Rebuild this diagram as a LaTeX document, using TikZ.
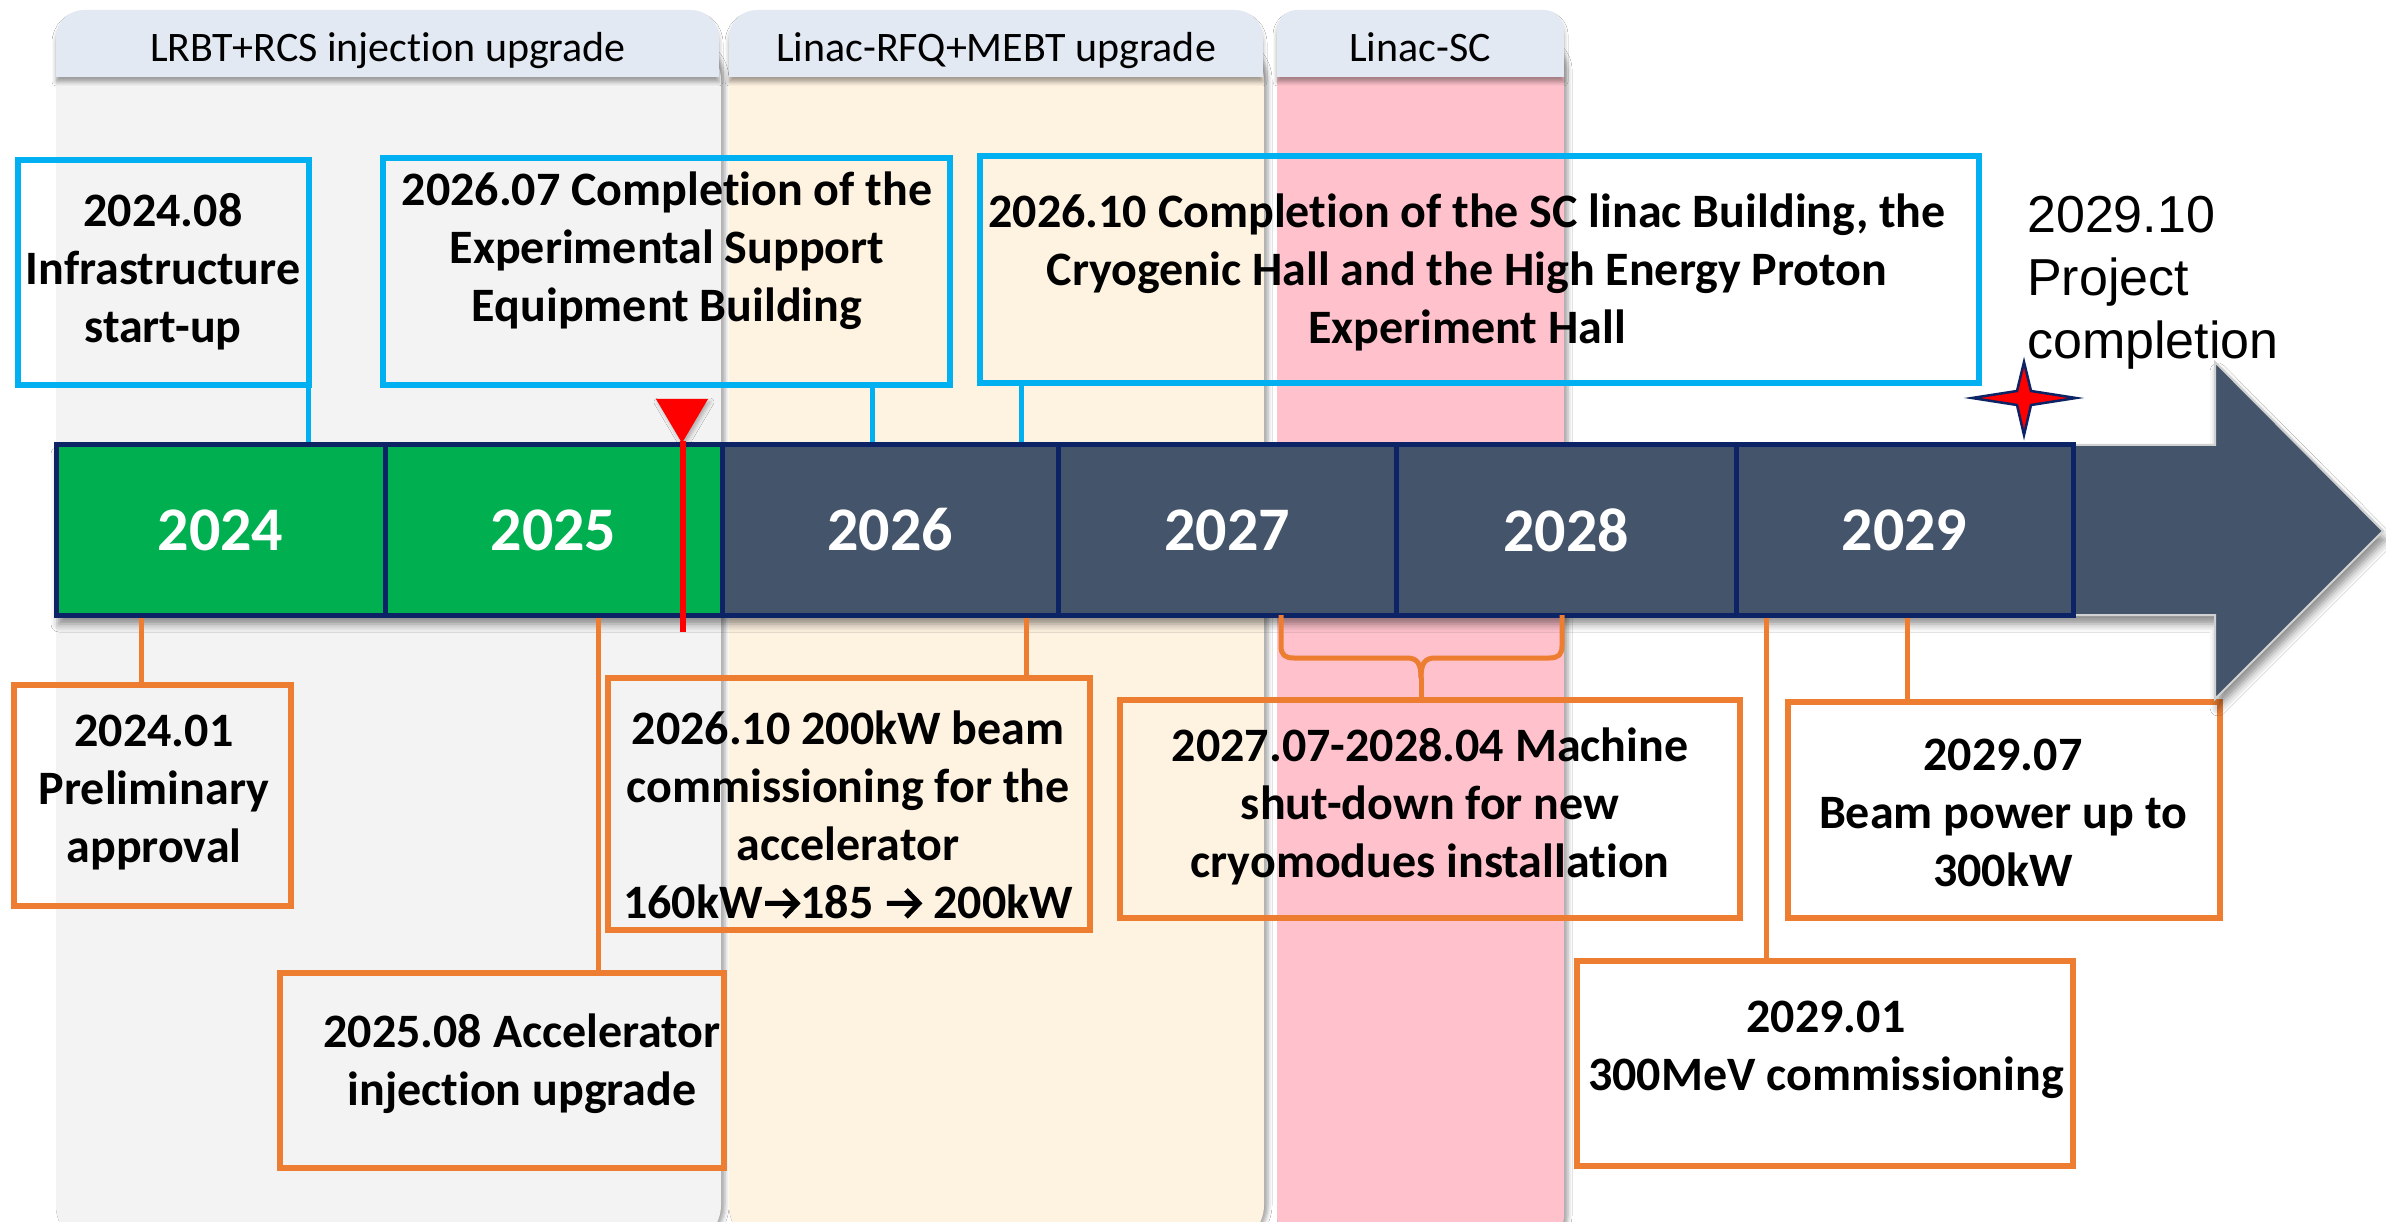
\documentclass[tikz,border=0pt]{standalone}
\usepackage{fontspec}
\setmainfont{Carlito}[Ligatures=NoCommon]
\newfontfamily\arialfont{Liberation Sans}
\usetikzlibrary{shadows.blur}

\definecolor{panelgray}{HTML}{F3F3F3}
\definecolor{panelcream}{HTML}{FEF2E1}
\definecolor{panelpink}{HTML}{FFC2CC}
\definecolor{headblue}{HTML}{E3E9F3}
\definecolor{boxblue}{HTML}{00B0F0}
\definecolor{boxorange}{HTML}{ED7D31}
\definecolor{yeargreen}{HTML}{00B050}
\definecolor{yearslate}{HTML}{44546A}
\definecolor{yearnavy}{HTML}{0C2366}
\definecolor{markred}{HTML}{FF0000}

% open-headed arrow glyph, drawn to match the bold text
\newcommand{\rarr}{\tikz[baseline=0pt, x=1pt, y=1pt]{\draw[black, line width=5pt, line cap=butt, line join=miter]
  (3,15) -- (36,15) (22,1.5) -- (35,15) -- (22,28.5);}}

\tikzset{
  panelshadow/.style={blur shadow={shadow xshift=4pt, shadow yshift=0pt, shadow blur radius=4pt, shadow opacity=35}},
  headshadow/.style={blur shadow={shadow xshift=0pt, shadow yshift=-5pt, shadow blur radius=4pt, shadow opacity=35}},
  barshadow/.style={blur shadow={shadow xshift=3pt, shadow yshift=-9pt, shadow blur radius=8pt, shadow opacity=45}},
  headtext/.style={font=\fontsize{42}{50}\selectfont, anchor=base, inner sep=0pt},
  bluebox/.style={draw=boxblue, line width=5.5pt, inner sep=0pt},
  orangebox/.style={draw=boxorange, line width=5.5pt, inner sep=0pt},
  boxtext/.style={font=\fontsize{48}{58}\selectfont\bfseries, align=center, inner sep=0pt},
  bluelink/.style={draw=boxblue, line width=5pt},
  orangelink/.style={draw=boxorange, line width=5pt},
  yearcell/.style={draw=yearnavy, line width=5pt, text=white, inner sep=0pt,
    minimum height=170pt, font=\fontsize{62}{70}\selectfont\bfseries},
}

\begin{document}
\begin{tikzpicture}[x=1pt,y=-1pt]
\useasboundingbox (0,0) rectangle (2386,1222);
\fill[white] (0,0) rectangle (2386,1222);

% ---------- phase panels ----------
\fill[panelgray, rounded corners=40pt, panelshadow] (56,40) rectangle (721,1245);
\fill[panelcream, rounded corners=40pt, panelshadow] (729,40) rectangle (1264,1245);
\fill[panelpink, rounded corners=30pt, panelshadow] (1277,40) rectangle (1564,1245);

\fill[headblue, headshadow] (56,77) [rounded corners=28pt] -- (56,10) -- (719,10) [sharp corners] -- (719,77) -- cycle;
\fill[headblue, headshadow] (729,77) [rounded corners=28pt] -- (729,10) -- (1263,10) [sharp corners] -- (1263,77) -- cycle;
\fill[headblue, headshadow] (1277,77) [rounded corners=20pt] -- (1277,10) -- (1564,10) [sharp corners] -- (1564,77) -- cycle;

\node[headtext] (h1) at (388,62) {LRBT+RCS injection upgrade};
\node[headtext] (h2) at (996,62) {Linac-RFQ+MEBT upgrade};
\node[headtext] (h3) at (1420,62) {Linac-SC};

% ---------- event boxes ----------
\node[bluebox, minimum width=291pt, minimum height=225pt] (b1) at (163.5,272.5) {};
\node[bluebox, minimum width=567pt, minimum height=227pt] (b2) at (666.5,271.5) {};
\node[bluebox, minimum width=999pt, minimum height=227pt] (b3) at (1479.5,269.5) {};

\node[orangebox, minimum width=277pt, minimum height=221pt] (o1) at (152.5,795.5) {};
\node[orangebox, minimum width=444pt, minimum height=195pt] (o2) at (502,1070.5) {};
\node[orangebox, minimum width=482pt, minimum height=252pt] (o3) at (849,804) {};
\node[orangebox, minimum width=620pt, minimum height=218pt] (o4) at (1430,809) {};
\node[orangebox, minimum width=432pt, minimum height=216pt] (o5) at (2004,810) {};
\node[orangebox, minimum width=496pt, minimum height=205pt] (o6) at (1825,1063.5) {};

% ---------- timeline arrow ----------
\filldraw[fill=yearslate, draw=black!18, line width=2pt, barshadow]
  (56,445) -- (2215,445) -- (2215,362) -- (2383,531) -- (2215,699) -- (2215,615) -- (56,615) -- cycle;

\node[yearcell, fill=yeargreen, minimum width=329pt] (y2024) at (220.5,530) {2024};
\node[yearcell, fill=yeargreen, minimum width=337pt] (y2025) at (553.5,530) {2025};
\node[yearcell, fill=yearslate, minimum width=336pt] (y2026) at (890,530) {2026};
\node[yearcell, fill=yearslate, minimum width=338pt] (y2027) at (1227,530) {2027};
\node[yearcell, fill=yearslate, minimum width=340pt] (y2028) at (1566,530) {2028};
\node[yearcell, fill=yearslate, minimum width=337pt] (y2029) at (1904.5,530) {2029};

% ---------- connectors ----------
\coordinate (kb1) at (308,0);
\coordinate (kb2) at (872,0);
\coordinate (kb3) at (1021,0);
\coordinate (ko1) at (141,0);
\coordinate (ko2) at (598,0);
\coordinate (ko3) at (1026,0);
\coordinate (ko5) at (1907,0);
\coordinate (ko6) at (1766,0);

\draw[bluelink] (b1.south -| kb1) -- (y2024.north -| kb1);
\draw[bluelink] (b2.south -| kb2) -- (y2026.north -| kb2);
\draw[bluelink] (b3.south -| kb3) -- (y2026.north -| kb3);

\draw[orangelink] (y2024.south -| ko1) -- (o1.north -| ko1);
\draw[orangelink] (y2025.south -| ko2) -- (o2.north -| ko2);
\draw[orangelink] (y2026.south -| ko3) -- (o3.north -| ko3);
\draw[orangelink] (y2029.south -| ko5) -- (o5.north -| ko5);
\draw[orangelink] (y2029.south -| ko6) -- (o6.north -| ko6);

% brace for the shut-down period
\coordinate (braceTip) at (1421,678);
\draw[orangelink, line join=round] (1281,615) -- (1281,646) .. controls (1281,655) and (1285,658) .. (1294,658)
  -- (1407,658) .. controls (1417,658) and (1421,663) .. (braceTip);
\draw[orangelink, line join=round] (1562,615) -- (1562,646) .. controls (1562,655) and (1558,658) .. (1549,658)
  -- (1435,658) .. controls (1425,658) and (1421,663) .. (braceTip);
\draw[orangelink] (braceTip) -- (o4.north -| braceTip);

% ---------- current-date marker ----------
\fill[markred, blur shadow={shadow xshift=2pt, shadow yshift=-3pt, shadow blur radius=4pt, shadow opacity=30}]
  (656,399) -- (708,399) -- (682,443) -- cycle;
\draw[markred, line width=6pt] (683,441) -- (683,632);

% ---------- completion star ----------
\filldraw[fill=markred, draw=yearnavy, line width=2.5pt, line join=miter]
  (2076,398) -- (2031,391) -- (2024,362) -- (2017,391) -- (1972,398)
  -- (2017,405) -- (2024,435) -- (2031,405) -- cycle;

\node[font=\arialfont\fontsize{52}{63}\selectfont, align=left, anchor=north west, inner sep=0pt]
  (pc) at (2027,196) {2029.10\\Project\\completion};

% ---------- texts ----------
\node[boxtext] (t1) at (163,272) {2024.08\\Infrastructure\\start-up};
\node[boxtext] (t2) at (667,251) {2026.07 Completion of the\\Experimental Support\\Equipment Building};
\node[boxtext] (t3) at (1467,272) {2026.10 Completion of the SC linac Building, the\\Cryogenic Hall and the High Energy Proton\\Experiment Hall};

\node[boxtext] (u1) at (154,793) {2024.01\\Preliminary\\approval};
\node[boxtext] (u2) at (522,1064) {2025.08 Accelerator\\injection upgrade};
\node[boxtext] (u3) at (848,815) {2026.10 200kW beam\\commissioning for the\\accelerator\\160kW\rarr185 \rarr{} 200kW};
\node[boxtext] (u4) at (1430,806) {2027.07-2028.04 Machine\\shut-down for new\\cryomodues installation};
\node[boxtext] (u5) at (2003,813) {2029.07\\Beam power up to\\300kW};
\node[boxtext] (u6) at (1826,1050) {2029.01\\300MeV commissioning};
\end{tikzpicture}
\end{document}
